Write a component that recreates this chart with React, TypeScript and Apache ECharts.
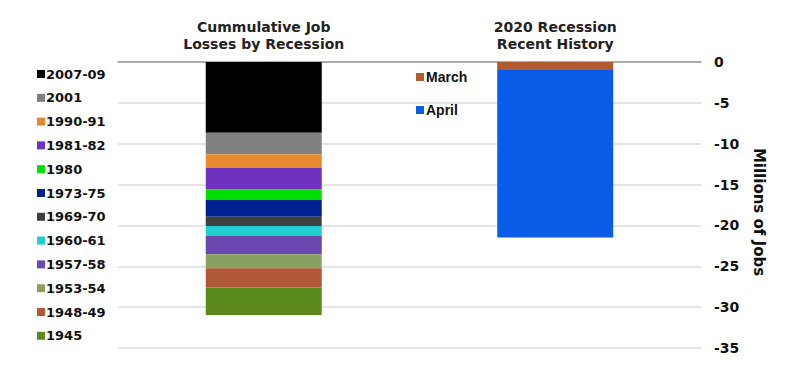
import React, { useEffect, useRef } from "react";
import * as echarts from "echarts";

const categories = ["Cummulative Job\nLosses by Recession", "2020 Recession\nRecent History"];

const recessions = [
  "2007-09", "2001", "1990-91", "1981-82", "1980", "1973-75",
  "1969-70", "1960-61", "1957-58", "1953-54", "1948-49", "1945",
];
const recessionLosses = [-8.65, -2.65, -1.64, -2.65, -1.3, -2.04, -1.14, -1.22, -2.24, -1.71, -2.37, -3.34];
const recessionColors = [
  "#000000", "#808080", "#E8892F", "#7030C0", "#00E000", "#002090",
  "#404040", "#20D0D0", "#6A48B0", "#88A060", "#B05838", "#5A8A1A",
];

const months2020 = ["March", "April"];
const monthLosses = [-0.98, -20.5];
const monthColors = ["#B05A30", "#0A5CE8"];

const yTicks = { min: -35, max: 0, interval: 5 };

export default function App() {
  const ref = useRef<HTMLDivElement>(null);
  useEffect(() => {
    if (!ref.current) return;
    const chart = echarts.init(ref.current, null, { renderer: "svg" });
    const series: any[] = [];
    recessions.forEach((name, i) => {
      series.push({
        name,
        type: "bar",
        stack: "total",
        barWidth: 116,
        data: [recessionLosses[i], "-"],
        itemStyle: { color: recessionColors[i] },
      });
    });
    months2020.forEach((name, i) => {
      series.push({
        name,
        type: "bar",
        stack: "total",
        barWidth: 116,
        data: ["-", monthLosses[i]],
        itemStyle: { color: monthColors[i] },
      });
    });
    chart.setOption({
      animation: false,
      backgroundColor: "#ffffff",
      grid: { left: 118, right: 99, top: 62, bottom: 35 },
      legend: [
        {
          data: recessions,
          orient: "vertical",
          left: 32,
          top: 62,
          itemWidth: 8,
          itemHeight: 8,
          itemGap: 9.8,
          icon: "rect",
          selectedMode: false,
          textStyle: {
            fontFamily: "DejaVu Sans",
            fontWeight: "bold",
            fontSize: 13,
            lineHeight: 14,
            color: "#111",
            padding: [0, 0, 0, -4],
          },
        },
        {
          data: months2020,
          orient: "vertical",
          left: 411,
          top: 64,
          itemWidth: 8,
          itemHeight: 8,
          itemGap: 17,
          icon: "rect",
          selectedMode: false,
          textStyle: {
            fontFamily: "Liberation Sans",
            fontWeight: "bold",
            fontSize: 14,
            lineHeight: 16,
            color: "#111",
            padding: [0, 0, 0, -3],
          },
        },
      ],
      xAxis: {
        type: "category",
        position: "top",
        data: categories,
        axisLine: { show: true, lineStyle: { color: "#999", width: 1.5 } },
        axisTick: { show: false },
        axisLabel: {
          fontFamily: "DejaVu Sans",
          fontWeight: "bold",
          fontSize: 14,
          lineHeight: 17,
          color: "#222",
          margin: 10,
          interval: 0,
        },
      },
      yAxis: {
        type: "value",
        position: "right",
        min: yTicks.min,
        max: yTicks.max,
        interval: yTicks.interval,
        name: "Millions of Jobs",
        nameLocation: "middle",
        nameRotate: -90,
        nameGap: 50,
        nameTextStyle: {
          fontFamily: "DejaVu Sans",
          fontWeight: "bold",
          fontSize: 15,
          color: "#111",
          padding: [0, 0, 0, 14],
        },
        axisLine: { show: false },
        axisTick: { show: false },
        splitLine: { show: true, lineStyle: { color: "#dddddd", width: 1.5 } },
        axisLabel: {
          fontFamily: "DejaVu Sans",
          fontWeight: "bold",
          fontSize: 14,
          color: "#111",
          margin: 13,
        },
      },
      series,
    });
    return () => chart.dispose();
  }, []);
  return (
    <div
      ref={ref}
      style={{ position: "fixed", left: 0, top: 0, width: 800, height: 383, background: "#fff" }}
    />
  );
}
